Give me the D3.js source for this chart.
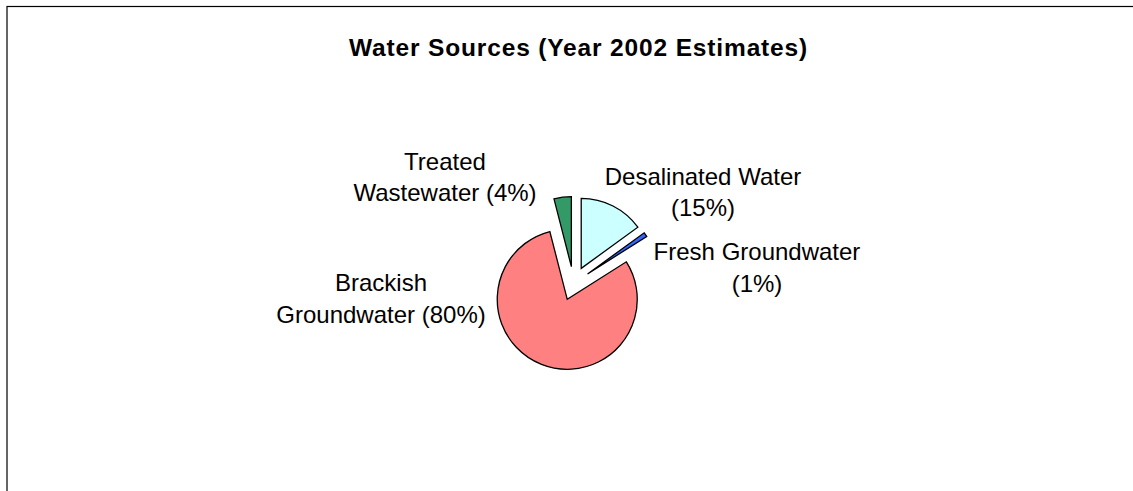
<!DOCTYPE html>
<html>
<head>
<meta charset="utf-8">
<script src="https://cdn.jsdelivr.net/npm/d3@7"></script>
<style>
  html, body { margin: 0; padding: 0; background: #fff; }
  svg { display: block; }
  text { font-family: "Liberation Sans", Arial, sans-serif; fill: #000; }
</style>
</head>
<body>
<svg id="chart" width="1133" height="491"></svg>
<script>
// ---- data ----
const categories = ["Desalinated Water", "Fresh Groundwater", "Brackish Groundwater", "Treated Wastewater"];
const values = [15, 1, 80, 4];
const labelLines = [
  ["Desalinated Water", "(15%)"],
  ["Fresh Groundwater", "(1%)"],
  ["Brackish", "Groundwater (80%)"],
  ["Treated", "Wastewater (4%)"]
];
const colors = ["#CCFFFF", "#3366FF", "#FF8080", "#339966"];
const title = "Water Sources (Year 2002 Estimates)";

// ---- layout ----
const W = 1133, H = 491;
const cx = 573.5, cy = 283.5, R = 70, explode = 17;
const labelPos = [
  { x: 703, y: 184.5 },
  { x: 757, y: 260 },
  { x: 381, y: 291 },
  { x: 445, y: 169.5 }
];
const lineGap = 31.5;

const svg = d3.select("#chart");

// chart frame (extends beyond right/bottom edge)
svg.append("rect")
  .attr("x", 7).attr("y", 6.5)
  .attr("width", W + 40).attr("height", H + 40)
  .attr("fill", "#fff").attr("stroke", "#000").attr("stroke-width", 1.2);

svg.append("text")
  .attr("x", 578.5).attr("y", 56)
  .attr("text-anchor", "middle")
  .attr("font-size", 24.5)
  .attr("font-weight", "bold")
  .attr("letter-spacing", 0.85)
  .text(title);

const pie = d3.pie().sort(null).startAngle(0).endAngle(2 * Math.PI);
const arcs = pie(values);
const arc = d3.arc().innerRadius(0).outerRadius(R);

const g = svg.append("g").attr("transform", `translate(${cx},${cy})`);
g.selectAll("path")
  .data(arcs)
  .join("path")
  .attr("d", arc)
  .attr("transform", d => {
    const a = (d.startAngle + d.endAngle) / 2;
    return `translate(${explode * Math.sin(a)},${-explode * Math.cos(a)})`;
  })
  .attr("fill", (d, i) => colors[i])
  .attr("stroke", "#000")
  .attr("stroke-width", 1.3)
  .attr("stroke-linejoin", "miter");

const labels = svg.append("g");
labelLines.forEach((lines, i) => {
  const t = labels.append("text")
    .attr("text-anchor", "middle")
    .attr("font-size", 24);
  lines.forEach((ln, j) => {
    t.append("tspan")
      .attr("x", labelPos[i].x)
      .attr("y", labelPos[i].y + j * lineGap)
      .text(ln);
  });
});
</script>
</body>
</html>
